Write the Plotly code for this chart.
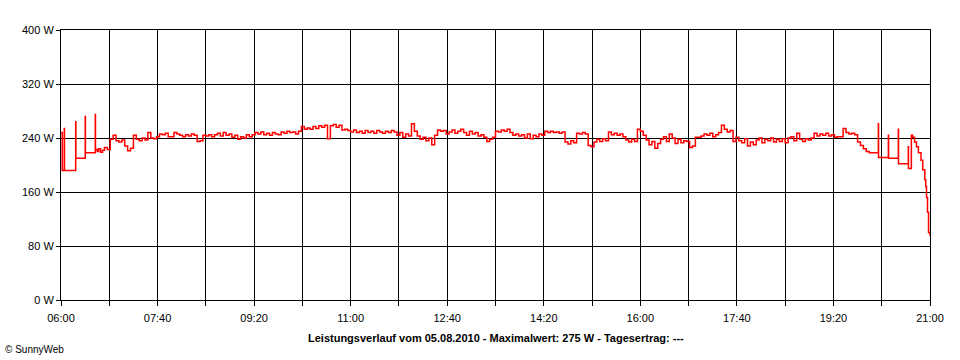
import plotly.graph_objects as go

# ---- data ----
# early section (sparse logging with transient spikes)
early_times = ["06:00:00", "06:01:18", "06:03:24", "06:03:36", "06:15:12", "06:15:24",
               "06:25:06", "06:25:18", "06:35:30", "06:35:42", "06:37:30", "06:39:00",
               "06:41:00", "06:43:00", "06:45:00"]
early_watts = [248, 192, 254, 192, 264, 210, 272, 218, 275, 223, 220, 224, 219, 222, 226]

# main section: readings every 3 minutes starting 06:48
main_start = "06:48:00"
main_step_min = 3
main_watts = [
    223, 238, 244, 236, 234, 237, 228, 221, 225, 244,
    238, 236, 240, 237, 248, 240, 239, 242, 246, 245,
    247, 242, 242, 248, 246, 244, 242, 245, 243, 246,
    244, 235, 236, 244, 243, 245, 242, 245, 247, 243,
    248, 244, 246, 241, 244, 238, 242, 240, 245, 242,
    245, 248, 246, 249, 245, 247, 244, 248, 246, 245,
    249, 247, 250, 248, 249, 246, 250, 257, 253, 255,
    253, 257, 254, 258, 256, 259, 239, 258, 260, 256,
    259, 252, 253, 251, 249, 252, 248, 250, 247, 251,
    248, 250, 247, 251, 249, 247, 250, 248, 251, 249,
    244, 248, 241, 246, 243, 261, 250, 243, 238, 241,
    236, 240, 230, 244, 252, 250, 251, 246, 249, 252,
    247, 250, 253, 248, 244, 250, 246, 248, 243, 245,
    241, 235, 238, 241, 250, 249, 252, 250, 253, 248,
    244, 246, 243, 245, 240, 246, 239, 244, 242, 246,
    244, 250, 248, 250, 248, 249, 247, 249, 234, 231,
    236, 233, 247, 246, 248, 246, 229, 227, 234, 238,
    235, 239, 236, 249, 245, 247, 244, 246, 242, 237,
    234, 238, 235, 253, 250, 244, 237, 230, 235, 225,
    232, 238, 242, 235, 246, 240, 232, 238, 233, 236,
    235, 226, 228, 241, 241, 243, 246, 244, 247, 242,
    245, 248, 259, 253, 249, 251, 235, 241, 236, 233,
    239, 228, 234, 230, 237, 240, 233, 238, 236, 240,
    234, 238, 235, 239, 233, 240, 242, 236, 247, 238,
    235, 239, 237, 240, 247, 243, 246, 244, 247, 243,
    245, 241, 242, 242, 254, 248, 246, 247, 245, 234,
    229, 224, 220,
]

# evening section
late_times = ["19:57:00", "20:06:30", "20:06:42", "20:16:54", "20:17:06", "20:27:12",
              "20:27:24", "20:37:30", "20:37:42", "20:40:42", "20:42:00", "20:44:00",
              "20:46:00", "20:48:00", "20:50:42", "20:52:30", "20:54:36", "20:55:36",
              "20:56:24", "20:57:24", "20:58:30", "21:00:00"]
late_watts = [218, 261, 211, 244, 210, 253, 202, 227, 195, 244, 241, 234,
              227, 218, 207, 193, 178, 168, 152, 130, 100, 95]

y_tick_vals = [0, 80, 160, 240, 320, 400]
y_tick_text = ["0 W", "80 W", "160 W", "240 W", "320 W", "400 W"]
x_tick_text = ["06:00", "07:40", "09:20", "11:00", "12:40", "14:20", "16:00", "17:40", "19:20", "21:00"]

title_text = "Leistungsverlauf vom 05.08.2010 - Maximalwert: 275 W - Tagesertrag: ---"
credit_text = "© SunnyWeb"


def to_min(s):
    h, m, sec = (int(p) for p in s.split(":"))
    return (h - 6) * 60 + m + sec / 60.0


def label_min(s):
    h, m = (int(p) for p in s.split(":"))
    return (h - 6) * 60 + m


start = to_min(main_start)
xs = [to_min(t) for t in early_times]
xs += [start + i * main_step_min for i in range(len(main_watts))]
xs += [to_min(t) for t in late_times]
ys = list(early_watts) + list(main_watts) + list(late_watts)

fig = go.Figure()
fig.add_trace(go.Scatter(x=xs, y=ys, mode="lines",
                         line=dict(color="#FF0000", width=1.5, shape="hv"),
                         hoverinfo="skip", showlegend=False))

fig.update_layout(
    width=960, height=360,
    margin=dict(l=61, r=30, t=30, b=60),
    paper_bgcolor="white", plot_bgcolor="white",
    font=dict(family="Liberation Sans, Arial, sans-serif", size=11, color="black"),
    showlegend=False,
)

x_tick_vals = [label_min(t) for t in x_tick_text]
fig.update_xaxes(
    range=[0, 900], tickvals=x_tick_vals, ticktext=x_tick_text,
    ticks="outside", ticklen=5, tickcolor="black", tickwidth=1,
    ticklabelstandoff=3,
    showgrid=True, gridcolor="black", gridwidth=1,
    minor=dict(tickvals=[v + 50 for v in x_tick_vals[:-1]], ticks="outside",
               ticklen=5, tickcolor="black", showgrid=True, gridcolor="black", gridwidth=1),
    showline=True, linecolor="black", linewidth=1, mirror=True,
    zeroline=False, fixedrange=True,
)
fig.update_yaxes(
    range=[0, 400], tickvals=y_tick_vals, ticktext=y_tick_text,
    ticks="outside", ticklen=4, tickcolor="black", tickwidth=1,
    showgrid=True, gridcolor="black", gridwidth=1,
    showline=True, linecolor="black", linewidth=1, mirror=True,
    zeroline=False, fixedrange=True,
)

fig.add_annotation(text="<b>" + title_text + "</b>", xref="paper", yref="paper",
                   x=0.5, y=-0.112, xanchor="center", yanchor="top", showarrow=False,
                   font=dict(size=11, family="Liberation Sans, Arial, sans-serif"))
fig.add_annotation(text=credit_text, xref="paper", yref="paper",
                   x=-61 / 869, y=-0.155, xanchor="left", yanchor="top", showarrow=False,
                   xshift=3, font=dict(size=10, family="Liberation Sans, Arial, sans-serif"))

fig.write_html("out.html", config={"displayModeBar": False})

with open("out.html", "r", encoding="utf-8") as f:
    html = f.read()
html = html.replace("<body>", '<body style="margin:0;padding:0;overflow:hidden">', 1)
with open("out.html", "w", encoding="utf-8") as f:
    f.write(html)
